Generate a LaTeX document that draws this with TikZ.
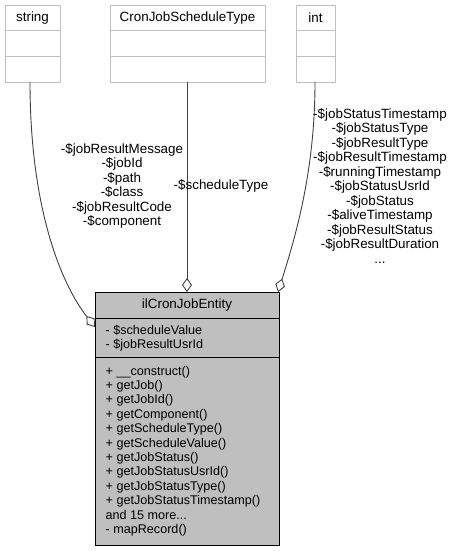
\documentclass[tikz,border=0pt]{standalone}
\usepackage{fontspec}
\setmainfont{Liberation Sans}
\usetikzlibrary{arrows.meta,calc}
\definecolor{edgegray}{HTML}{404040}
\definecolor{boxgray}{HTML}{BFBFBF}
\definecolor{lightborder}{HTML}{BFBFBF}
\begin{document}
\begin{tikzpicture}[x=1pt,y=-1pt,
  typebox/.style={draw=lightborder,fill=white,line width=1pt,inner sep=0pt,anchor=north west},
  mainbox/.style={draw=black,fill=boxgray,line width=1pt,inner sep=0pt,anchor=north west},
  divider/.style={line width=1pt},
  edge/.style={draw=edgegray,line width=0.9pt,-{Diamond[open,length=14pt,width=10pt,line width=0.9pt]}},
  txt/.style={font=\fontsize{13.4}{14.5}\selectfont,inner sep=0pt,align=center},
  membertxt/.style={font=\fontsize{12.6}{14.4}\selectfont,inner sep=0pt,align=left,anchor=north west}]
\useasboundingbox (0,0) rectangle (455,551);
% type boxes
\node[typebox,minimum width=55pt,minimum height=77pt] (str) at (5,5) {};
\draw[lightborder,divider] (5,31) -- (60,31) (5,57) -- (60,57);
\node[txt] (strt) at (32.5,18) {string};
\node[typebox,minimum width=155pt,minimum height=77pt] (cron) at (110,5) {};
\draw[lightborder,divider] (110,31) -- (265,31) (110,57) -- (265,57);
\node[txt] (cront) at (187.5,18) {CronJobScheduleType};
\node[typebox,minimum width=39pt,minimum height=77pt] (int) at (296,5) {};
\draw[lightborder,divider] (296,31) -- (335,31) (296,57) -- (335,57);
\node[txt] (intt) at (315.5,18) {int};
% main box
\node[mainbox,minimum width=184pt,minimum height=253pt] (ent) at (95,292) {};
\draw[divider] (95,318) -- (279,318) (95,357) -- (279,357);
\node[txt] (entt) at (187,305) {ilCronJobEntity};
\node[membertxt] (attrs) at (105.5,324.8) {- \$scheduleValue\\- \$jobResultUsrId};
\node[membertxt] (meths) at (105.5,365.8) {+ \_\_construct()\\+ getJob()\\+ getJobId()\\+ getComponent()\\+ getScheduleType()\\+ getScheduleValue()\\+ getJobStatus()\\+ getJobStatusUsrId()\\+ getJobStatusType()\\+ getJobStatusTimestamp()\\and 15 more...\\- mapRecord()};
% connector end points
\coordinate (strS) at (30,82);
\coordinate (cronS) at (187,82);
\coordinate (intS) at (315,82);
\coordinate (entL) at (95,327);
\coordinate (entT) at (187,292);
\coordinate (entR) at (278,292);
\draw[edge] (strS) .. controls (30,210) and (62,285) .. (entL);
\draw[edge] (cronS) -- (entT);
\draw[edge] (intS) .. controls (315,170) and (296,235) .. (entR);
% labels
\node[txt] (lab1) at (122,186) {-\$jobResultMessage\\-\$jobId\\-\$path\\-\$class\\-\$jobResultCode\\-\$component};
\node[txt] (lab2) at (221,186) {-\$scheduleType};
\node[txt] (lab3) at (380,186) {-\$jobStatusTimestamp\\-\$jobStatusType\\-\$jobResultType\\-\$jobResultTimestamp\\-\$runningTimestamp\\-\$jobStatusUsrId\\-\$jobStatus\\-\$aliveTimestamp\\-\$jobResultStatus\\-\$jobResultDuration\\...};
\end{tikzpicture}
\end{document}
